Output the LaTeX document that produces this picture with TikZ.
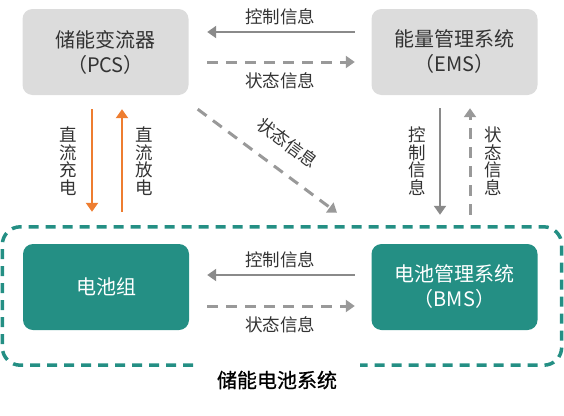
\documentclass[tikz,border=0pt]{standalone}
\usepackage{fontspec}
\setmainfont{Noto Sans CJK SC}
\newfontfamily\essnamefont[FakeBold=0.8]{Noto Sans CJK SC}
\usetikzlibrary{arrows.meta}

\definecolor{boxgray}{HTML}{DCDCDC}
\definecolor{essteal}{HTML}{248F84}
\definecolor{arrowgray}{HTML}{8A8A8A}
\definecolor{dashgray}{HTML}{999999}
\definecolor{dcorange}{HTML}{EE7D30}
\definecolor{textgray}{HTML}{333333}

\tikzset{
    infoline/.style={draw=arrowgray, line width=2pt},
    statusline/.style={draw=dashgray, line width=3pt, dash pattern=on 11pt off 8pt},
    dcline/.style={draw=dcorange, line width=2.5pt},
}

\begin{document}
\begin{tikzpicture}[x=1pt, y=-1pt]

\useasboundingbox (0,0) rectangle (564,415);

\begin{scope}[every node/.style={rectangle, rounded corners=10pt, minimum width=166pt, minimum height=86pt, align=center, font=\fontsize{20}{25}\selectfont}]

    \node (PCS) at (105.5, 52) [fill=boxgray, text=textgray] {储能变流器\\（PCS）};
    \node (EMS) at (454.5, 52) [fill=boxgray, text=textgray] {能量管理系统\\（EMS）};

    \node (BAT) at (106, 287) [fill=essteal, text=white] {电池组};
    \node (BMS) at (454.5, 287) [fill=essteal, text=white] {电池管理系统\\（BMS）};
\end{scope}

% storage system frame, open at the bottom for its name
\node (ESS) at (282, 296) [minimum width=559pt, minimum height=138pt, inner sep=0pt] {};
\draw [essteal, line width=3.5pt, dash pattern=on 10pt off 7pt, rounded corners=18pt]
    ([xshift=-89pt]ESS.south) -| (ESS.north west) -| (ESS.south east) -- ([xshift=78pt]ESS.south);
\node (ESSname) at (277, 380) [font=\fontsize{20}{24}\essnamefont] {储能电池系统};


\begin{scope}[>={Triangle[length=9pt, width=12pt]},
              every node/.style={inner sep=0pt, align=center, text=textgray, font=\fontsize{17.5}{17.5}\selectfont},
              every edge/.style={infoline}
]
    \path [->] ([yshift=20pt]EMS.west) edge [shorten <=16.5pt, shorten >=18.5pt] node [above=6pt] {控制信息} ([yshift=20pt]PCS.east);
    \path [->] ([yshift=-10pt]PCS.east) edge [statusline, shorten <=18.5pt, shorten >=16.5pt] node [below=9pt] {状态信息} ([yshift=-10pt]EMS.west);

    \path [->] ([yshift=12pt]BMS.west) edge [shorten <=16.5pt, shorten >=18pt] node [above=6pt] {控制信息} ([yshift=12pt]BAT.east);
    \path [->] ([yshift=-19pt]BAT.east) edge [statusline, shorten <=18pt, shorten >=16.5pt] node [below=9pt] {状态信息} ([yshift=-19pt]BMS.west);

    \path [->] ([xshift=-13.5pt]PCS.south) edge [dcline, shorten <=14pt, shorten >=15pt] node [left=14pt] {直\\流\\充\\电} ([xshift=-13.5pt]PCS.south |- ESS.north);
    \path [->] ([xshift=16.5pt]PCS.south |- ESS.north) edge [dcline, shorten <=15pt, shorten >=14pt] node [right=12pt] {直\\流\\放\\电} ([xshift=16.5pt]PCS.south);

    \path [->] ([xshift=-14.5pt]EMS.south) edge [shorten <=13pt, shorten >=12pt] node [left=13pt] {控\\制\\信\\息} ([xshift=-14.5pt]EMS.south |- ESS.north);
    \path [->] ([xshift=15.5pt]EMS.south |- ESS.north) edge [statusline, shorten <=12pt, shorten >=13pt] node [right=13pt] {状\\态\\信\\息} ([xshift=15.5pt]EMS.south);

    \path [->] ([shift={(9,14)}]PCS.south east) edge [statusline] node [sloped, pos=0.53, above=17pt] {状态信息} ([shift={(55,-14)}]ESS.north);
\end{scope}

\end{tikzpicture}
\end{document}
